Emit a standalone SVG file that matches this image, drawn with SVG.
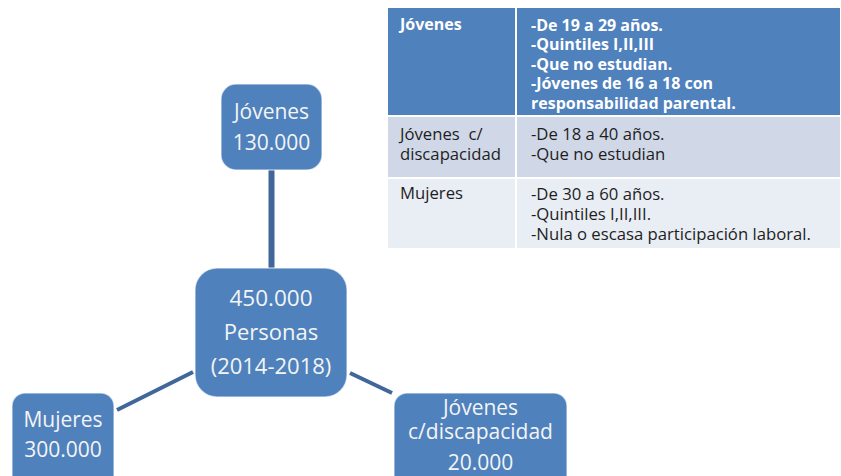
<svg xmlns="http://www.w3.org/2000/svg" width="841" height="476" viewBox="0 0 841 476">
<style>
.node rect{fill:#4F81BD;stroke:#ffffff;stroke-opacity:0.55;stroke-width:1.5}
.node text{font-family:"Open Sans","Liberation Sans",sans-serif;font-size:21px;fill:#F4F4F4;text-anchor:middle}
.conn line{stroke:#41669A;stroke-linecap:butt}
.tbl text{font-family:"Open Sans","Liberation Sans",sans-serif;font-size:16.7px;fill:#1E1E1E;white-space:pre}
.tbl text.h{font-weight:bold;fill:#FFFFFF;font-size:16px}
</style>
<rect width="841" height="476" fill="#ffffff"/>

<g id="table" class="tbl">
  <rect x="388" y="8" width="127" height="107" fill="#4F81BD"/>
  <rect x="517" y="8" width="323" height="107" fill="#4F81BD"/>
  <rect x="388" y="117" width="127" height="60" fill="#D0D8E8"/>
  <rect x="517" y="117" width="323" height="60" fill="#D0D8E8"/>
  <rect x="388" y="179" width="127" height="69" fill="#E9EDF4"/>
  <rect x="517" y="179" width="323" height="69" fill="#E9EDF4"/>
  <text class="h" x="400" y="30">Jóvenes</text>
  <text class="h" x="531" y="30.5">-De 19 a 29 años.</text>
  <text class="h" x="531" y="50">-Quintiles I,II,III</text>
  <text class="h" x="531" y="69.5">-Que no estudian.</text>
  <text class="h" x="531" y="89">-Jóvenes de 16 a 18 con</text>
  <text class="h" x="531" y="108.5">responsabilidad parental.</text>
  <text x="400" y="140" xml:space="preserve">Jóvenes  c/</text>
  <text x="400" y="159.5">discapacidad</text>
  <text x="531" y="140">-De 18 a 40 años.</text>
  <text x="531" y="159.5">-Que no estudian</text>
  <text x="400" y="199">Mujeres</text>
  <text x="531" y="199.5">-De 30 a 60 años.</text>
  <text x="531" y="219.5">-Quintiles I,II,III.</text>
  <text x="531" y="239.5">-Nula o escasa participación laboral.</text>
</g>

<g id="connectors" class="conn">
  <line x1="271.5" y1="170" x2="271.5" y2="268" stroke-width="6"/>
  <line x1="193" y1="372" x2="117" y2="410" stroke-width="4"/>
  <line x1="350" y1="373" x2="392" y2="393" stroke-width="4"/>
</g>

<g id="node-jovenes" class="node">
  <rect x="221" y="84" width="101" height="86" rx="15"/>
  <text x="271.5" y="119">Jóvenes</text>
  <text x="271.5" y="150">130.000</text>
</g>

<g id="node-center" class="node">
  <rect x="195" y="268" width="152" height="129" rx="22"/>
  <text x="271" y="306" style="font-size:22.5px">450.000</text>
  <text x="271" y="340" style="font-size:22px">Personas</text>
  <text x="271" y="374" style="font-size:22px">(2014-2018)</text>
</g>

<g id="node-mujeres" class="node">
  <rect x="12" y="393" width="102" height="100" rx="13"/>
  <text x="63" y="427">Mujeres</text>
  <text x="63" y="457">300.000</text>
</g>

<g id="node-discapacidad" class="node">
  <rect x="394" y="393" width="173" height="100" rx="13"/>
  <text x="480.5" y="415">Jóvenes</text>
  <text x="480.5" y="439">c/discapacidad</text>
  <text x="480.5" y="470">20.000</text>
</g>
</svg>
